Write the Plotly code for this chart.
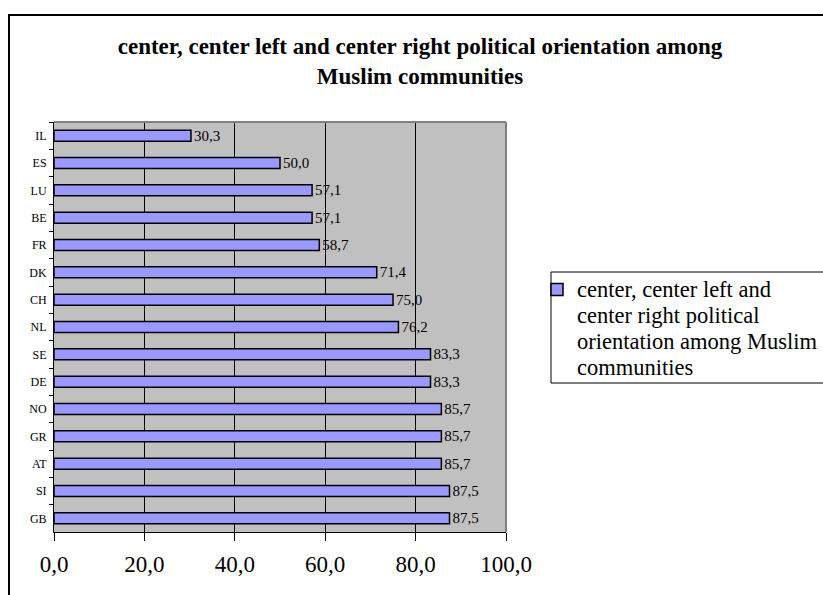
import plotly.graph_objects as go

# Data
countries = ["IL", "ES", "LU", "BE", "FR", "DK", "CH", "NL",
             "SE", "DE", "NO", "GR", "AT", "SI", "GB"]
shares = [30.3, 50.0, 57.1, 57.1, 58.7, 71.4, 75.0, 76.2,
          83.3, 83.3, 85.7, 85.7, 85.7, 87.5, 87.5]
x_ticks = [0, 20, 40, 60, 80, 100]
x_tick_labels = ["0,0", "20,0", "40,0", "60,0", "80,0", "100,0"]
series_lines = ["center, center left and", "center right political",
                "orientation among Muslim", "communities"]
title_lines = ["center, center left and center right political orientation among",
               "Muslim communities"]

SERIF = "Liberation Serif, Times New Roman, serif"
W, H = 823, 595
L, R, T, B = 54, 506, 122, 532  # plot area edges in pixels


def px_x(p):
    return (p - L) / (R - L)


def px_y(p):
    return (B - p) / (B - T)


# legend entry: larger glyphs with a tighter line pitch
series_name = "<br>".join(f'<span style="font-size:22.5px">{s}</span>' for s in series_lines)
title_text = "<b>" + "<br>".join(title_lines) + "</b>"

# value labels in decimal-comma style
labels = [f"{v:.1f}".replace(".", ",") for v in shares]

fig = go.Figure(go.Bar(
    x=shares, y=countries, orientation="h", width=0.4,
    marker=dict(color="#9999FF", line=dict(color="black", width=1.5)),
    text=labels, textposition="outside", constraintext="none", cliponaxis=False,
    textfont=dict(family=SERIF, size=15, color="black"),
    name=series_name, showlegend=True,
))

shapes = [
    # outer chart frame
    dict(type="rect", xref="paper", yref="paper",
         x0=px_x(9), x1=px_x(900), y0=px_y(15), y1=px_y(700),
         line=dict(color="black", width=2), fillcolor="rgba(0,0,0,0)", layer="above"),
    # top and right edges of the plot area
    dict(type="line", xref="paper", yref="paper", x0=0, x1=1, y0=1, y1=1,
         line=dict(color="#808080", width=2), layer="above"),
    dict(type="line", xref="paper", yref="paper", x0=1, x1=1, y0=0, y1=1,
         line=dict(color="#808080", width=2), layer="above"),
    # legend box
    dict(type="rect", xref="paper", yref="paper",
         x0=px_x(551), x1=px_x(900), y0=px_y(383), y1=px_y(272),
         line=dict(color="black", width=1), fillcolor="rgba(0,0,0,0)", layer="above"),
]

fig.update_layout(
    width=W, height=H,
    margin=dict(l=L, r=W - R, t=T, b=H - B, autoexpand=False),
    paper_bgcolor="white", plot_bgcolor="#C0C0C0",
    font=dict(family=SERIF, color="black"),
    title=dict(text=title_text, x=420 / W, xanchor="center",
               y=1 - 54 / H, yanchor="top", yref="container",
               font=dict(family=SERIF, size=23, color="black")),
    legend=dict(x=px_x(537), y=px_y(270), xanchor="left", yanchor="top",
                bgcolor="rgba(0,0,0,0)", borderwidth=0, valign="top",
                font=dict(family=SERIF, size=20, color="black")),
    shapes=shapes,
)

fig.update_xaxes(
    range=[0, 100], tickvals=x_ticks, ticktext=x_tick_labels,
    ticks="outside", ticklen=8, tickwidth=1, tickcolor="black",
    ticklabelstandoff=3,
    showline=True, linecolor="black", linewidth=1,
    showgrid=True, gridcolor="black", gridwidth=1, zeroline=False,
    tickfont=dict(family=SERIF, size=23, color="black"),
)
fig.update_yaxes(
    categoryorder="array", categoryarray=countries, autorange="reversed",
    ticks="outside", ticklen=4, tickwidth=1, tickcolor="black", tickson="boundaries",
    ticklabelstandoff=4,
    showline=True, linecolor="black", linewidth=1, showgrid=False,
    tickfont=dict(family=SERIF, size=12, color="black"),
)

fig.write_html("out.html")
